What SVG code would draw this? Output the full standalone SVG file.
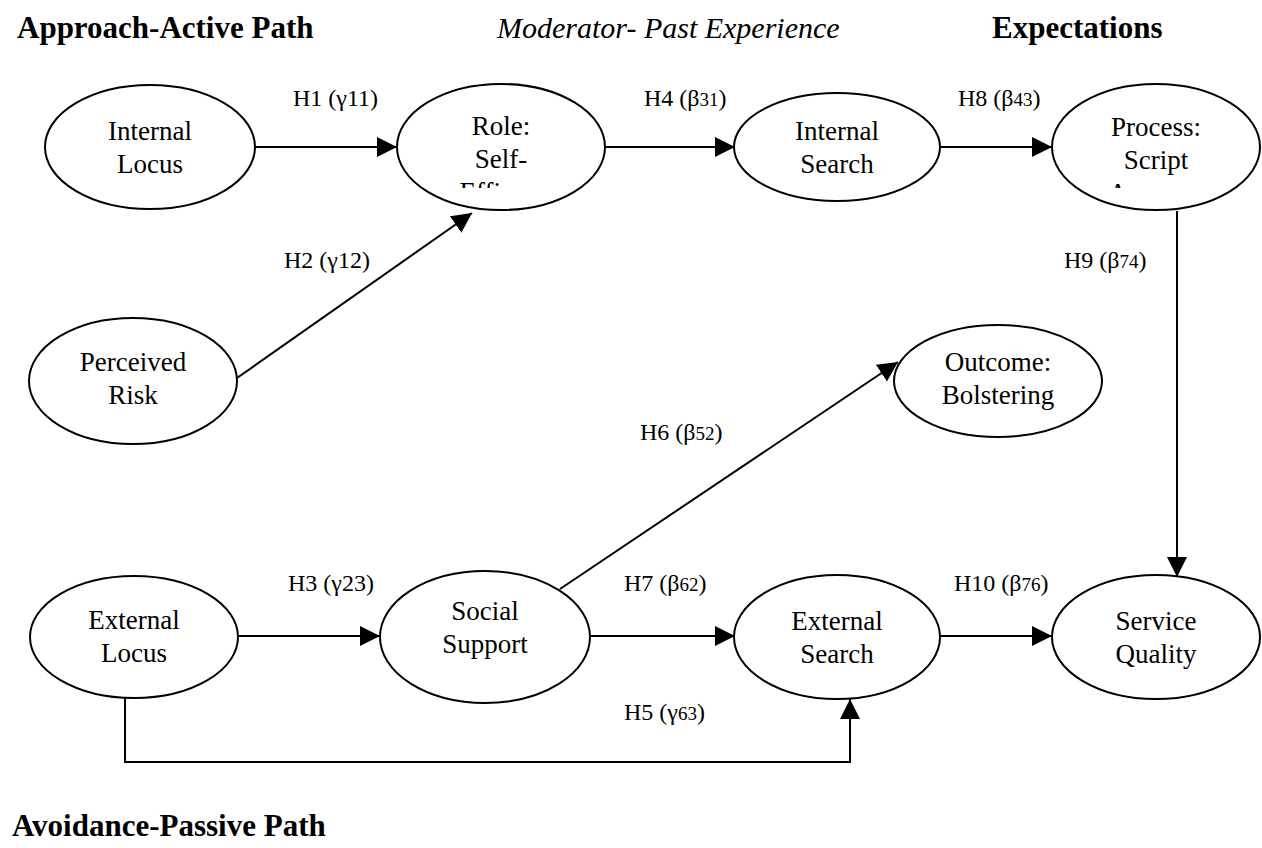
<svg xmlns="http://www.w3.org/2000/svg" width="1262" height="848" viewBox="0 0 1262 848">
  <style>
    .node ellipse { fill: #ffffff; stroke: #000000; stroke-width: 2; }
    .node text { font-family: "Liberation Serif", "Times New Roman", serif; font-size: 27px; fill: #000000; text-anchor: middle; }
    .head { font-family: "Liberation Serif", "Times New Roman", serif; font-size: 31px; fill: #000000; }
    .bold { font-weight: bold; }
    .ital { font-style: italic; font-size: 30px; }
    .lbl { font-family: "Liberation Serif", "Times New Roman", serif; font-size: 24px; fill: #000000; }
    .sub { font-size: 19px; }
    .edge { fill: none; stroke: #000000; stroke-width: 2; }
  </style>
  <defs>
    <marker id="arrow" markerUnits="userSpaceOnUse" markerWidth="22" markerHeight="22" refX="20" refY="10" orient="auto">
      <path d="M0,0 L20,10 L0,20 Z" fill="#000000"/>
    </marker>
    <!-- third text lines of these two nodes are cut off by their text frames -->
    <clipPath id="clipRole"><rect x="390" y="80" width="230" height="108"/></clipPath>
    <clipPath id="clipProcess"><rect x="1045" y="80" width="217" height="108"/></clipPath>
  </defs>
  <rect width="1262" height="848" fill="#ffffff"/>

  <!-- section headings -->
  <g id="headings">
    <text class="head bold" x="17" y="38">Approach-Active Path</text>
    <text class="head ital" x="497" y="38">Moderator- Past Experience</text>
    <text class="head bold" x="992" y="38">Expectations</text>
    <text class="head bold" x="12" y="836">Avoidance-Passive Path</text>
  </g>

  <!-- connectors -->
  <g id="connectors">
    <line class="edge" x1="255" y1="147" x2="397" y2="147" marker-end="url(#arrow)"/>
    <line class="edge" x1="605" y1="147" x2="735" y2="147" marker-end="url(#arrow)"/>
    <line class="edge" x1="940" y1="147" x2="1052" y2="147" marker-end="url(#arrow)"/>
    <line class="edge" x1="237" y1="378" x2="472" y2="213" marker-end="url(#arrow)"/>
    <line class="edge" x1="1177" y1="211" x2="1177" y2="577" marker-end="url(#arrow)"/>
    <line class="edge" x1="560" y1="589" x2="898" y2="362" marker-end="url(#arrow)"/>
    <line class="edge" x1="238" y1="636" x2="380" y2="636" marker-end="url(#arrow)"/>
    <line class="edge" x1="590" y1="636" x2="735" y2="636" marker-end="url(#arrow)"/>
    <line class="edge" x1="940" y1="636" x2="1052" y2="636" marker-end="url(#arrow)"/>
    <polyline class="edge" points="125,698 125,762 850,762 850,699" marker-end="url(#arrow)"/>

    <text class="lbl" x="293" y="106">H1 (γ11)</text>
    <text class="lbl" x="644" y="106">H4 (β<tspan class="sub">31</tspan>)</text>
    <text class="lbl" x="958" y="106">H8 (β<tspan class="sub">43</tspan>)</text>
    <text class="lbl" x="284" y="268">H2 (γ12)</text>
    <text class="lbl" x="1064" y="268">H9 (β<tspan class="sub">74</tspan>)</text>
    <text class="lbl" x="640" y="440">H6 (β<tspan class="sub">52</tspan>)</text>
    <text class="lbl" x="288" y="591">H3 (γ23)</text>
    <text class="lbl" x="624" y="591">H7 (β<tspan class="sub">62</tspan>)</text>
    <text class="lbl" x="954" y="591">H10 (β<tspan class="sub">76</tspan>)</text>
    <text class="lbl" x="624" y="720">H5 (γ<tspan class="sub">63</tspan>)</text>
  </g>

  <!-- approach-active row -->
  <g id="internal-locus" class="node">
    <ellipse cx="150" cy="147" rx="105" ry="62"/>
    <text x="150" y="140">Internal</text>
    <text x="150" y="173">Locus</text>
  </g>
  <g id="role-self-efficacy" class="node">
    <ellipse cx="501" cy="147" rx="104" ry="63"/>
    <g clip-path="url(#clipRole)">
      <text x="501" y="135">Role:</text>
      <text x="501" y="168">Self-</text>
      <text x="505" y="201">Efficacy</text>
    </g>
  </g>
  <g id="internal-search" class="node">
    <ellipse cx="837" cy="147" rx="103" ry="54"/>
    <text x="837" y="140">Internal</text>
    <text x="837" y="173">Search</text>
  </g>
  <g id="process-script" class="node">
    <ellipse cx="1156" cy="147" rx="104" ry="63"/>
    <g clip-path="url(#clipProcess)">
      <text x="1156" y="136">Process:</text>
      <text x="1156" y="169">Script</text>
      <text x="1160" y="202">Accuracy</text>
    </g>
  </g>

  <g id="perceived-risk" class="node">
    <ellipse cx="133" cy="381" rx="104" ry="63"/>
    <text x="133" y="371">Perceived</text>
    <text x="133" y="404">Risk</text>
  </g>
  <g id="outcome-bolstering" class="node">
    <ellipse cx="998" cy="381" rx="104" ry="56"/>
    <text x="998" y="371">Outcome:</text>
    <text x="998" y="404">Bolstering</text>
  </g>

  <!-- avoidance-passive row -->
  <g id="external-locus" class="node">
    <ellipse cx="134" cy="637" rx="104" ry="61"/>
    <text x="134" y="629">External</text>
    <text x="134" y="662">Locus</text>
  </g>
  <g id="social-support" class="node">
    <ellipse cx="485" cy="637" rx="105" ry="66"/>
    <text x="485" y="620">Social</text>
    <text x="485" y="653">Support</text>
  </g>
  <g id="external-search" class="node">
    <ellipse cx="837" cy="637" rx="103" ry="62"/>
    <text x="837" y="630">External</text>
    <text x="837" y="663">Search</text>
  </g>
  <g id="service-quality" class="node">
    <ellipse cx="1156" cy="637" rx="104" ry="62"/>
    <text x="1156" y="630">Service</text>
    <text x="1156" y="663">Quality</text>
  </g>
</svg>
